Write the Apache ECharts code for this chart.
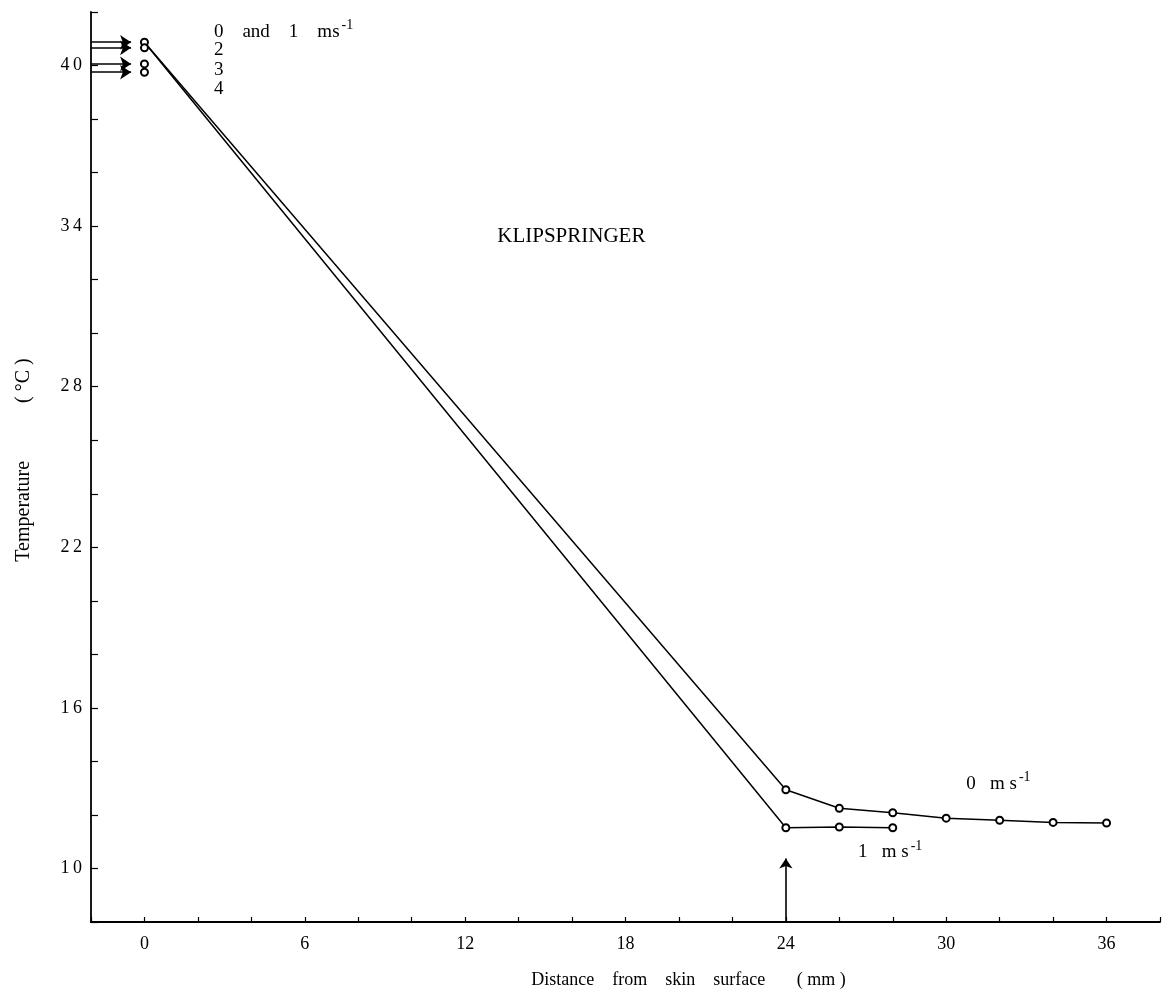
<!DOCTYPE html>
<html>
<head>
<meta charset="utf-8">
<script src="https://cdn.jsdelivr.net/npm/echarts@6/dist/echarts.min.js"></script>
<style>
  html, body { margin: 0; padding: 0; background: #fff; }
  #chart { width: 1164px; height: 998px; }
</style>
</head>
<body>
<div id="chart"></div>
<script>
// Temperature profile through the coat of the klipspringer
const xTickLabels = [0, 6, 12, 18, 24, 30, 36];
const yTickLabels = [10, 16, 22, 28, 34, 40];

// Wind speed 0 m/s
const dist0 = [0, 24, 26, 28, 30, 32, 34, 36];
const temp0 = [40.87, 12.94, 12.25, 12.08, 11.88, 11.80, 11.72, 11.70];
// Wind speed 1 m/s
const dist1 = [0, 24, 26, 28];
const temp1 = [40.87, 11.52, 11.55, 11.52];

// Skin surface temperatures at 0 mm for each wind speed
const skinWind = ['0 and 1', '2', '3', '4'];
const skinTemp = [40.87, 40.66, 40.06, 39.75];

// Coat thickness marker
const coatDepth = 24;

const FONT = '"Liberation Serif", "DejaVu Serif", serif';
const INK = '#000';

const chart = echarts.init(document.getElementById('chart'), null, { renderer: 'canvas' });

const supRich = {
  t: { fontFamily: FONT, fontSize: 19, color: INK },
  k: { fontFamily: FONT, fontSize: 21, color: INK },
  s: { fontFamily: FONT, fontSize: 14, color: INK, padding: [0, 0, 13, 2] }
};

// wind-speed list next to the skin temperatures
const skinNotePos = [41.25, 40.58, 39.83, 39.12];
const notes = skinWind.map((w, i) => ({
  value: [2.6, skinNotePos[i]],
  text: i === 0 ? '{t|' + w.replace(/ /g, '    ') + '    ms}{s|-1}' : '{t|' + w + '}'
})).concat([
  { value: [30.75, 13.15], text: '{t|0   m s}{s|-1}' },
  { value: [26.7, 10.6], text: '{t|1   m s}{s|-1}' },
  { value: [13.2, 33.6], text: '{k|KLIPSPRINGER}' }
]);

const spaced = v => String(v).split('').join('\u2009');

const option = {
  backgroundColor: '#fff',
  animation: false,
  grid: { left: 91, right: 4, top: 12, bottom: 76, containLabel: false },
  xAxis: {
    type: 'value',
    min: -2, max: 38, interval: 2,
    splitLine: { show: false },
    axisLine: { show: true, onZero: false, lineStyle: { color: INK, width: 1.8 } },
    axisTick: { show: true, inside: true, length: 5, lineStyle: { color: INK, width: 1.2 } },
    axisLabel: {
      color: INK, fontFamily: FONT, fontSize: 18, margin: 13,
      formatter: v => xTickLabels.includes(v) ? String(v) : ''
    },
    name: 'Distance    from    skin    surface       ( mm )',
    nameLocation: 'middle',
    nameGap: 49,
    nameTextStyle: { color: INK, fontFamily: FONT, fontSize: 18, padding: [0, 0, 0, 126] }
  },
  yAxis: {
    type: 'value',
    min: 8, max: 42, interval: 2,
    splitLine: { show: false },
    axisLine: { show: true, onZero: false, lineStyle: { color: INK, width: 1.8 } },
    axisTick: { show: true, inside: true, length: 7, lineStyle: { color: INK, width: 1.2 } },
    axisLabel: {
      color: INK, fontFamily: FONT, fontSize: 18, margin: 9,
      formatter: v => yTickLabels.includes(v) ? spaced(v) : ''
    },
    name: '{a|Temperature}{g|}{b|( °C )}',
    nameLocation: 'middle',
    nameGap: 57,
    nameTextStyle: {
      padding: [0, 0, 0, 14],
      rich: {
        a: { fontFamily: FONT, fontSize: 20, color: INK },
        g: { width: 58 },
        b: { fontFamily: FONT, fontSize: 20, color: INK }
      }
    }
  },
  series: [
    {
      name: '0 m/s',
      type: 'line',
      data: dist0.map((d, i) => ({ value: [d, temp0[i]], symbol: i === 0 ? 'none' : 'emptyCircle' })),
      symbolSize: 7,
      lineStyle: { color: INK, width: 1.5 },
      itemStyle: { color: INK, borderColor: INK, borderWidth: 1.4 },
      z: 3
    },
    {
      name: '1 m/s',
      type: 'line',
      data: dist1.map((d, i) => ({ value: [d, temp1[i]], symbol: i === 0 ? 'none' : 'emptyCircle' })),
      symbolSize: 7,
      lineStyle: { color: INK, width: 1.5 },
      itemStyle: { color: INK, borderColor: INK, borderWidth: 1.4 },
      z: 3
    },
    {
      name: 'skin',
      type: 'scatter',
      data: skinTemp.map(t => [0, t]),
      symbol: 'emptyCircle',
      symbolSize: 7,
      itemStyle: { color: INK, borderColor: INK, borderWidth: 1.8, opacity: 1 },
      z: 4
    },
    {
      name: 'skin arrows',
      type: 'lines',
      coordinateSystem: 'cartesian2d',
      symbol: ['none', 'arrow'],
      symbolSize: [1, 11],
      lineStyle: { color: INK, width: 1.6, opacity: 1 },
      data: skinTemp.map(t => ({ coords: [[-2, t], [-0.5, t]] })),
      z: 2
    },
    {
      name: 'coat depth',
      type: 'lines',
      coordinateSystem: 'cartesian2d',
      symbol: ['none', 'arrow'],
      symbolSize: [1, 10],
      lineStyle: { color: INK, width: 1.6, opacity: 1 },
      data: [{ coords: [[coatDepth, 8], [coatDepth, 10.37]] }],
      z: 2
    },
    {
      name: 'notes',
      type: 'scatter',
      symbolSize: 0,
      silent: true,
      itemStyle: { opacity: 1 },
      data: notes.map(n => ({
        value: n.value,
        label: {
          show: true, position: 'right', distance: 0, color: INK, opacity: 1,
          formatter: n.text, rich: supRich
        }
      })),
      z: 5
    }
  ]
};

chart.setOption(option);
</script>
</body>
</html>
